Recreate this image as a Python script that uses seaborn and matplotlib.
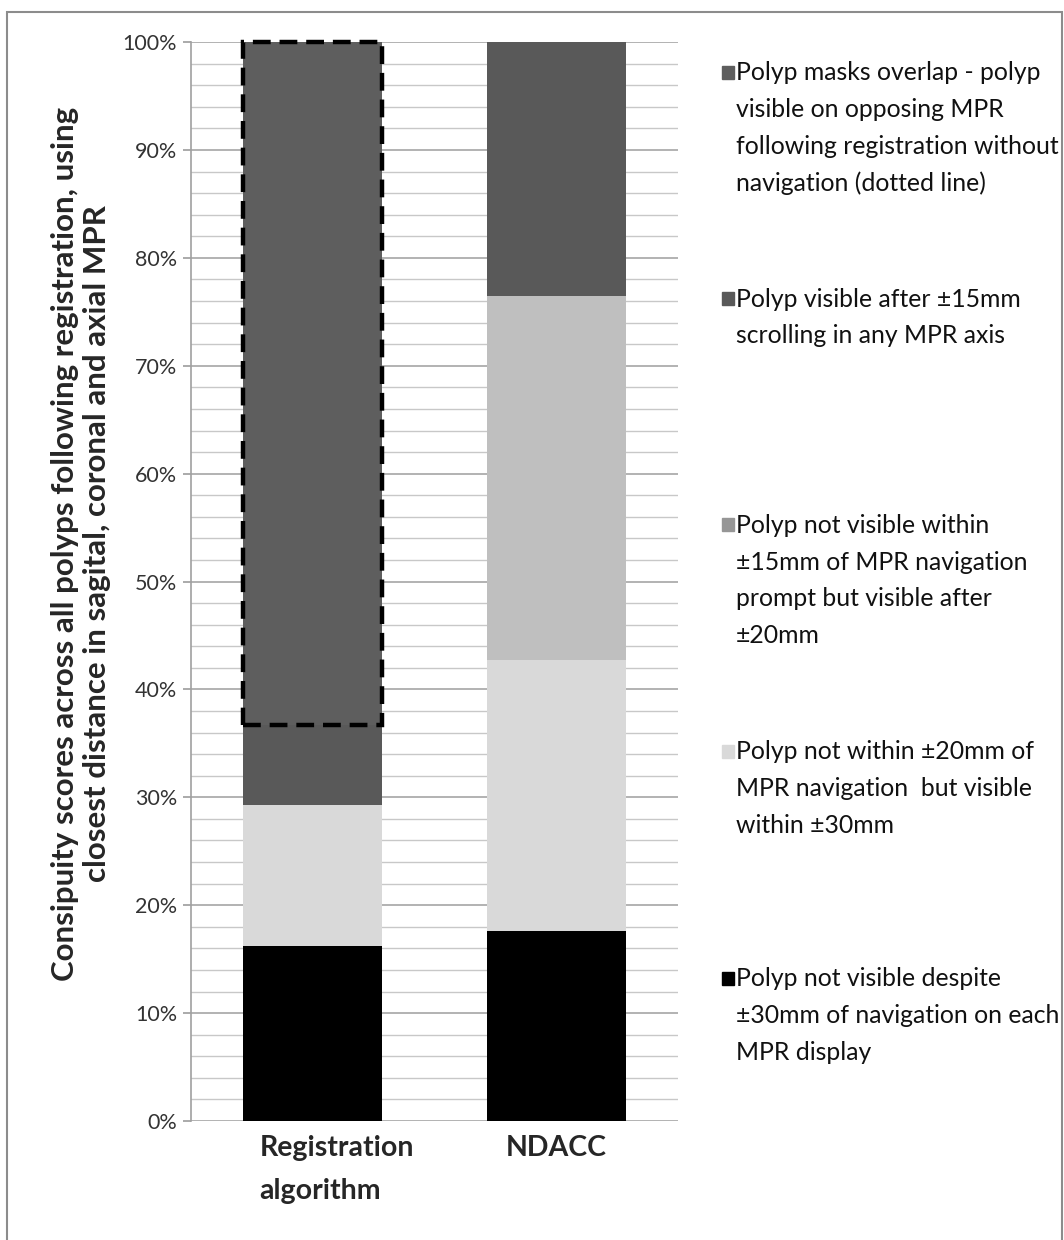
import numpy as np
import pandas as pd
import matplotlib
matplotlib.use("Agg")
import matplotlib.pyplot as plt
import seaborn as sns
from matplotlib.patches import Rectangle
from matplotlib.ticker import MultipleLocator, FuncFormatter
from matplotlib.transforms import ScaledTranslation

# Data (percent of polyps)
categories = ["Registration\nalgorithm", "NDACC"]
not_visible = [16.2, 17.6]
within_30 = [13.1, 25.1]
within_20 = [0.0, 33.8]
after_15 = [7.4, 23.5]
overlap = [63.3, 0.0]

series_names = [
    "Polyp not visible despite\n\u00b130mm of navigation on each\nMPR display",
    "Polyp not within \u00b120mm of\nMPR navigation  but visible\nwithin \u00b130mm",
    "Polyp not visible within\n\u00b115mm of MPR navigation\nprompt but visible after\n\u00b120mm",
    "Polyp visible after \u00b115mm\nscrolling in any MPR axis",
    "Polyp masks overlap - polyp\nvisible on opposing MPR\nfollowing registration without\nnavigation (dotted line)",
]
bar_colors = ["#000000", "#d9d9d9", "#bfbfbf", "#595959", "#5e5e5e"]
legend_colors = ["#000000", "#d9d9d9", "#969696", "#595959", "#5e5e5e"]

sns.set_theme(style="white")
plt.rcParams['font.family'] = ['Lato', 'DejaVu Sans']

df = pd.DataFrame({
    "category": categories,
    "s0": not_visible,
    "s1": within_30,
    "s2": within_20,
    "s3": after_15,
    "s4": overlap,
})
cols = ["s0", "s1", "s2", "s3", "s4"]
cum = df[cols].cumsum(axis=1)

fig = plt.figure(figsize=(10.64, 12.4), dpi=100)
ax = fig.add_axes([0.1795, 0.096, 0.4577, 0.870])

# stacked bars: draw cumulative totals from the top down
for i in reversed(range(len(cols))):
    sns.barplot(x=df["category"], y=cum[cols[i]], color=bar_colors[i],
                width=0.57, ax=ax, saturation=1, edgecolor="none", zorder=2)

# dashed box around the overlap segment
w = 0.57
y0 = cum["s3"][0]
ax.add_patch(Rectangle((0 - w / 2, y0), w, overlap[0], fill=False,
                       edgecolor="black", lw=3.2, linestyle=(0, (4, 2)),
                       zorder=4, clip_on=False))

ax.set_xlim(-0.5, 1.5)
ax.set_ylim(0, 100)
ax.yaxis.set_major_locator(MultipleLocator(10))
ax.yaxis.set_minor_locator(MultipleLocator(2))
ax.yaxis.set_major_formatter(FuncFormatter(lambda v, p: f"{v:.0f}%"))
ax.grid(axis="y", which="major", color="#a6a6a6", lw=1.2, zorder=0)
ax.grid(axis="y", which="minor", color="#c8c8c8", lw=1.0, zorder=0)
ax.set_axisbelow(True)
for s in ["top", "right", "bottom"]:
    ax.spines[s].set_visible(False)
ax.spines["left"].set_color("#a0a0a0")
ax.spines["left"].set_linewidth(1.2)
ax.tick_params(axis="y", which="major", left=True, length=6, color="#a0a0a0",
               labelsize=15.5, labelcolor="#333333", pad=4)
ax.tick_params(axis="y", which="minor", left=False)
ax.tick_params(axis="x", bottom=False, pad=4)
ax.set_xticks(range(len(categories)))
ax.set_xticklabels(categories, fontweight="bold", fontsize=20.5,
                   ha="center", multialignment="left", linespacing=1.8)
# first label sits a little right of its bar centre in the original
lab0 = ax.get_xticklabels()[0]
lab0.set_transform(lab0.get_transform() + ScaledTranslation(0.24, 0, fig.dpi_scale_trans))
ax.set_xlabel("")
ax.set_ylabel("Consipuity scores across all polyps following registration, using\n"
              "closest distance in sagital, coronal and axial MPR",
              fontsize=22.5, fontweight="bold", linespacing=1.15)
ax.yaxis.set_label_coords(-0.165, 0.535)

# legend drawn by hand, evenly spaced entries like the original
leg_mid = [0.942, 0.7595, 0.577, 0.3945, 0.2115]
for name, col, mid in zip(reversed(series_names), reversed(legend_colors), leg_mid):
    fig.patches.append(Rectangle((0.6785, mid - 0.0055), 0.0115, 0.0105,
                                 transform=fig.transFigure, color=col))
    fig.text(0.6915, mid + 0.0085, name, fontsize=17.8, va="top", ha="left",
             linespacing=1.72, color="#111111")

# outer frame
fig.patches.append(Rectangle((0.007, -0.01), 0.991, 1.0, transform=fig.transFigure,
                             fill=False, edgecolor="#8c8c8c", lw=1.5))

fig.savefig("out.png", dpi=100)
